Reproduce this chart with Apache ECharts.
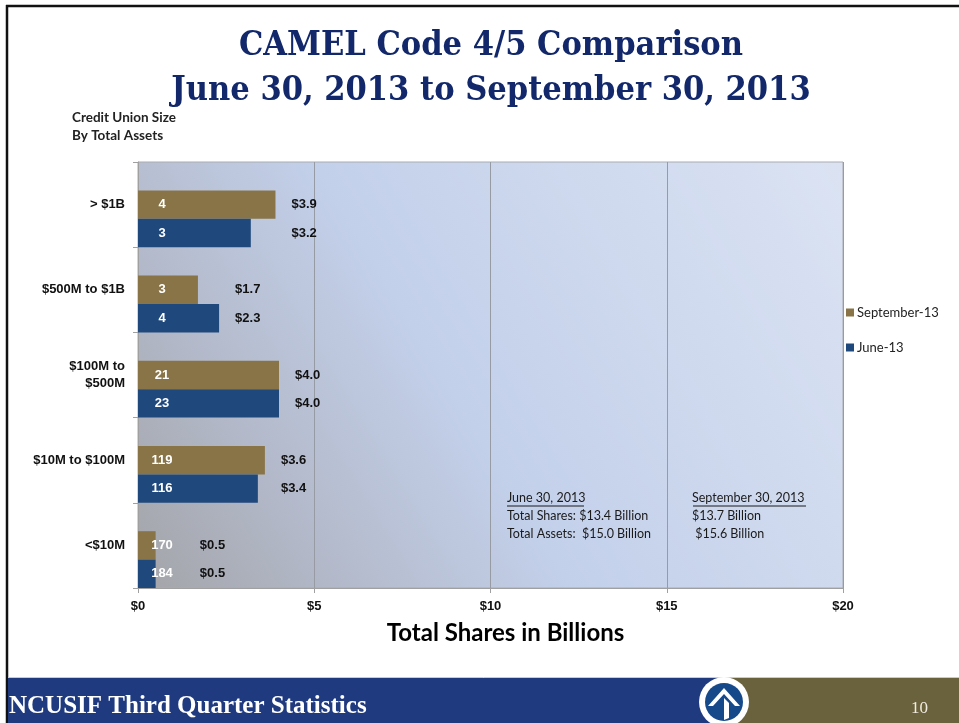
<!DOCTYPE html>
<html>
<head>
<meta charset="utf-8">
<script src="https://cdn.jsdelivr.net/npm/echarts@6/dist/echarts.min.js"></script>
<style>
  html, body { margin: 0; padding: 0; background: #ffffff; }
  #main { width: 959px; height: 723px; }
</style>
</head>
<body>
<div id="main"></div>
<script>
// categories listed top to bottom (yAxis is inverted)
var categories = ['> $1B', '$500M to $1B', '$100M to\n$500M', '$10M to $100M', '<$10M'];
var septShares = [3.9, 1.7, 4.0, 3.6, 0.5];   // $ billions, September-13
var juneShares = [3.2, 2.3, 4.0, 3.4, 0.5];   // $ billions, June-13
var septCounts = [4, 3, 21, 119, 170];        // number of credit unions
var juneCounts = [3, 4, 23, 116, 184];
var xTicks = [0, 5, 10, 15, 20];

var SEPT = '#887447', JUNE = '#1f497d';
var calibri = 'Lato, "Open Sans", sans-serif';
var arial = '"Liberation Sans", Arial, sans-serif';
var LABEL_FLOOR = 1.3; // keep $ labels clear of the count labels on tiny bars

// spacer so both $ labels of a group sit right of the longer bar
function spacer(arr) {
  return arr.map(function (v, i) {
    var end = Math.max(septShares[i], juneShares[i], LABEL_FLOOR);
    return Math.round((end - v) * 10) / 10;
  });
}

function countLabel(counts) {
  return {
    show: true,
    position: [24, '50%'],
    align: 'center',
    verticalAlign: 'middle',
    color: '#ffffff',
    fontFamily: arial,
    fontWeight: 'bold',
    fontSize: 13,
    formatter: function (p) { return counts[p.dataIndex]; }
  };
}

function dollarLabel(vals) {
  return {
    show: true,
    position: 'right',
    distance: 16,
    color: '#111111',
    fontFamily: arial,
    fontWeight: 'bold',
    fontSize: 13,
    formatter: function (p) { return '$' + vals[p.dataIndex].toFixed(1); }
  };
}

var myChart = echarts.init(document.getElementById('main'));

var bg = new echarts.graphic.LinearGradient(0, 1, 1, 0, [
  { offset: 0, color: '#a3a4a8' },
  { offset: 0.2, color: '#b2b8c8' },
  { offset: 0.45, color: '#c3d0ea' },
  { offset: 1, color: '#dbe3f3' }
]);

var barCommon = { barGap: '0%', barCategoryGap: '0%', silent: true };

myChart.setOption({
  animation: false,
  title: {
    text: 'CAMEL Code 4/5 Comparison\nJune 30, 2013 to September 30, 2013',
    left: 486,
    top: 19,
    textAlign: 'center',
    textStyle: {
      fontFamily: '"DejaVu Serif Condensed", "Liberation Serif", serif',
      fontWeight: 'bold',
      fontSize: 34,
      lineHeight: 45,
      color: '#12286b'
    }
  },
  legend: {
    orient: 'vertical',
    left: 841,
    top: 301,
    itemWidth: 8,
    itemHeight: 8,
    itemGap: 22,
    icon: 'rect',
    data: ['September-13', 'June-13'],
    textStyle: { fontFamily: calibri, fontSize: 13, color: '#222222', padding: [0, 0, 0, -2] }
  },
  grid: {
    left: 138, right: 116, top: 162, bottom: 135,
    show: true,
    backgroundColor: bg,
    borderColor: '#a9abb0',
    borderWidth: 1
  },
  xAxis: {
    type: 'value',
    min: xTicks[0],
    max: xTicks[xTicks.length - 1],
    interval: xTicks[1] - xTicks[0],
    name: 'Total Shares in Billions',
    nameLocation: 'middle',
    nameGap: 33,
    nameTextStyle: { fontFamily: calibri, fontWeight: 'bold', fontSize: 24, color: '#000000', padding: [0, 0, 0, 30] },
    axisLine: { show: true, lineStyle: { color: '#a0a0a0' } },
    axisTick: { show: true, length: 5, lineStyle: { color: '#a0a0a0' } },
    axisLabel: {
      margin: 12,
      fontFamily: arial, fontWeight: 'bold', fontSize: 13, color: '#111111',
      formatter: function (v) { return '$' + v; }
    },
    splitLine: { show: true, lineStyle: { color: '#979ba4', width: 1 } }
  },
  yAxis: {
    type: 'category',
    inverse: true,
    data: categories,
    axisLine: { show: true, lineStyle: { color: '#a0a0a0' } },
    axisTick: { show: true, length: 5, lineStyle: { color: '#a0a0a0' } },
    axisLabel: {
      margin: 13,
      fontFamily: arial, fontWeight: 'bold', fontSize: 13, color: '#111111', lineHeight: 17
    },
    splitLine: { show: false }
  },
  series: [
    Object.assign({ name: 'blank', type: 'bar', stack: 'a', data: [] }, barCommon),
    Object.assign({
      name: 'September-13', type: 'bar', stack: 's', data: septShares,
      itemStyle: { color: SEPT }, label: countLabel(septCounts)
    }, barCommon),
    Object.assign({
      name: 'septLbl', type: 'bar', stack: 's', data: spacer(septShares),
      itemStyle: { color: 'rgba(0,0,0,0)' }, label: dollarLabel(septShares)
    }, barCommon),
    Object.assign({
      name: 'June-13', type: 'bar', stack: 'j', data: juneShares,
      itemStyle: { color: JUNE }, label: countLabel(juneCounts)
    }, barCommon),
    Object.assign({
      name: 'juneLbl', type: 'bar', stack: 'j', data: spacer(juneShares),
      itemStyle: { color: 'rgba(0,0,0,0)' }, label: dollarLabel(juneShares)
    }, barCommon)
  ],
  graphic: [
    // slide frame
    { type: 'line', shape: { x1: 6, y1: 6, x2: 959, y2: 6 }, style: { stroke: '#111', lineWidth: 2.5 } },
    { type: 'line', shape: { x1: 7, y1: 5, x2: 7, y2: 723 }, style: { stroke: '#111', lineWidth: 2.5 } },
    // footer
    { type: 'line', shape: { x1: 8, y1: 677.5, x2: 959, y2: 677.5 }, style: { stroke: '#c2cbe0', lineWidth: 1 } },
    { type: 'rect', shape: { x: 8, y: 678, width: 712, height: 45 }, style: { fill: '#1f3a7f' } },
    { type: 'rect', shape: { x: 727, y: 678, width: 232, height: 45 }, style: { fill: '#6a613d' } },
    { type: 'circle', shape: { cx: 724, cy: 702, r: 25 }, style: { fill: '#ffffff' } },
    { type: 'circle', shape: { cx: 724, cy: 702, r: 19 }, style: { fill: '#16498a' } },
    { type: 'polygon', shape: { points: [[708, 706], [724, 688], [740, 706], [735, 706], [724, 694], [713, 706]] }, style: { fill: '#ffffff' } },
    { type: 'polygon', shape: { points: [[724, 698], [729, 703], [729, 718], [724, 720]] }, style: { fill: '#ffffff' } },
    {
      type: 'text', left: 9, top: 694,
      style: { text: 'NCUSIF Third Quarter Statistics', fill: '#ffffff', font: 'bold 25px "Liberation Serif", serif' }
    },
    {
      type: 'text', left: 911, top: 700,
      style: { text: '10', fill: '#f0ece0', font: '17px "Liberation Serif", serif' }
    },
    // axis heading
    {
      type: 'text', left: 72, top: 109,
      style: { text: 'Credit Union Size\nBy Total Assets', fill: '#222222', font: 'bold 13.5px ' + calibri, lineHeight: 18 }
    },
    // totals notes
    {
      type: 'text', left: 507, top: 489,
      style: { text: 'June 30, 2013\nTotal Shares: $13.4 Billion\nTotal Assets:  $15.0 Billion', fill: '#1a1a1a', font: '12.5px ' + calibri, lineHeight: 18 }
    },
    { type: 'line', shape: { x1: 507, y1: 506, x2: 584, y2: 506 }, style: { stroke: '#1a1a1a', lineWidth: 1 } },
    {
      type: 'text', left: 692, top: 489,
      style: { text: 'September 30, 2013\n$13.7 Billion\n $15.6 Billion', fill: '#1a1a1a', font: '12.5px ' + calibri, lineHeight: 18 }
    },
    { type: 'line', shape: { x1: 693, y1: 506, x2: 806, y2: 506 }, style: { stroke: '#1a1a1a', lineWidth: 1 } }
  ]
});
</script>
</body>
</html>
